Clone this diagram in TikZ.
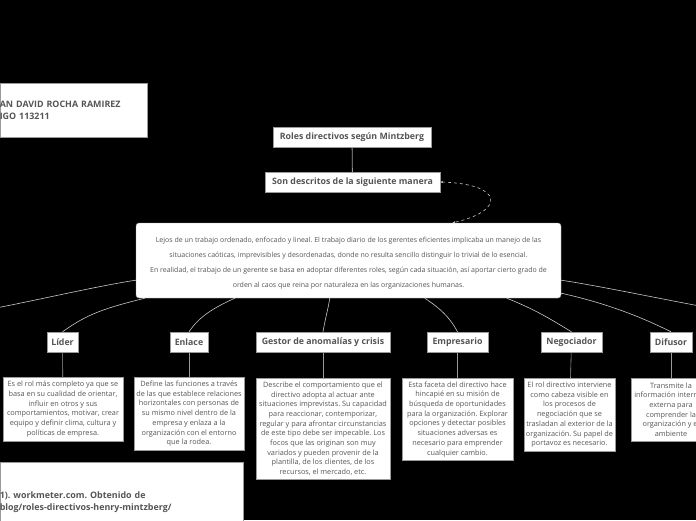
\documentclass[tikz,border=0pt]{standalone}
\usepackage{fontspec}
\setmainfont{Open Sans}
\usetikzlibrary{calc, positioning, arrows.meta}
\definecolor{txtgray}{HTML}{555555}
\definecolor{linegray}{HTML}{C8C8C8}
\definecolor{boxline}{HTML}{9A9A9A}
\frenchspacing

\begin{document}
\begin{tikzpicture}[x=1pt, y=-1pt]

        % Page frame (black background)
        \fill[black] (0,0) rectangle (696,520);
        \useasboundingbox (0,0) rectangle (696,520);
        \clip (0,0) rectangle (696,520);

        % Styles for the boxes and links
        \tikzset{
            topic/.style={draw=boxline, fill=white, text=txtgray, font=\bfseries\fontsize{8.8}{10}\selectfont, inner xsep=4pt, minimum height=20pt},
            note/.style={draw=boxline, fill=white, text=txtgray, font=\fontsize{7.3}{9.7}\selectfont, align=center, inner xsep=2pt, inner ysep=3pt, anchor=north},
            credit/.style={draw=boxline, fill=white, text=txtgray, font=\bfseries\fontsize{8.9}{12.5}\selectfont, align=left, inner sep=0pt},
            link/.style={draw=linegray, line width=0.6pt}
        }

        % 1. Author box (top left) and reference box (bottom left)
        \node[credit, anchor=north east, text width=147pt, minimum height=54pt] (author) at (147,83) {AN DAVID ROCHA RAMIREZ\\IGO 113211};
        \node[credit, anchor=north east, text width=243pt, minimum height=80pt] (source) at (243,462) {1). workmeter.com. Obtenido de\\blog/roles-directivos-henry-mintzberg/};

        % 2. Title and subtitle
        \node[topic, minimum width=158pt] (title) at (352,137) {Roles directivos según Mintzberg};
        \node[topic, minimum width=175pt] (subtitle) at (352.5,182) {Son descritos de la siguiente manera};

        % 3. Main text box (box first, text placed over it)
        \node[draw=boxline, fill=white, rounded corners=3pt, minimum width=425pt, minimum height=75pt] (main) at (348.5,260.5) {};
        \node[text=txtgray, align=center, font=\fontsize{7}{15}\selectfont] (maintext) at ($(main.center)+(0,2.5)$)
              {Lejos de un trabajo ordenado, enfocado y lineal. El trabajo diario de los gerentes eficientes implicaba un manejo de las\\
               situaciones caóticas, imprevisibles y desordenadas, donde no resulta sencillo distinguir lo trivial de lo esencial.\\
               En realidad, el trabajo de un gerente se basa en adoptar diferentes roles, según cada situación, así aportar cierto grado de\\
               orden al caos que reina por naturaleza en las organizaciones humanas.};

        % 4. The roles
        \node[topic, minimum width=31pt] (lider) at (62.5,342) {Líder};
        \node[topic, minimum width=38pt] (enlace) at (189,342) {Enlace};
        \node[topic, minimum width=134pt] (gestor) at (323,342) {Gestor de anomalías y crisis};
        \node[topic, minimum width=61pt] (empresario) at (457.5,342) {Empresario};
        \node[topic, minimum width=61pt] (negociador) at (571.5,342) {Negociador};
        \node[topic, minimum width=42pt] (difusor) at (671,342) {Difusor};

        % 5. Descriptions under each role
        \node[note, minimum width=120pt, minimum height=64pt] (liderdesc) at (63,377)
            {Es el rol más completo ya que se\\basa en su cualidad de orientar,\\influir en otros y sus\\comportamientos, motivar, crear\\equipo y definir clima, cultura y\\políticas de empresa.};
        \node[note, minimum width=110pt, minimum height=73pt] (enlacedesc) at (189,377)
            {Define las funciones a través\\de las que establece relaciones\\horizontales con personas de\\su mismo nivel dentro de la\\empresa y enlaza a la\\organización con el entorno\\que la rodea.};
        \node[note, minimum width=134pt, minimum height=101pt] (gestordesc) at (323,378)
            {Describe el comportamiento que el\\directivo adopta al actuar ante\\situaciones imprevistas. Su capacidad\\para reaccionar, contemporizar,\\regular y para afrontar circunstancias\\de este tipo debe ser impecable. Los\\focos que las originan son muy\\variados y pueden provenir de la\\plantilla, de los clientes, de los\\recursos, el mercado, etc.};
        \node[note, minimum width=111pt, minimum height=82pt] (empresariodesc) at (457.5,378)
            {Esta faceta del directivo hace\\hincapié en su misión de\\búsqueda de oportunidades\\para la organización. Explorar\\opciones y detectar posibles\\situaciones adversas es\\necesario para emprender\\cualquier cambio.};
        \node[note, minimum width=91pt, minimum height=73pt] (negociadordesc) at (569.5,378)
            {El rol directivo interviene\\como cabeza visible en\\los procesos de\\negociación que se\\trasladan al exterior de la\\organización. Su papel de\\portavoz es necesario.};
        \node[note, minimum width=80pt, minimum height=63pt] (difusordesc) at (671,378)
            {Transmite la\\información interna y\\externa para\\comprender la\\organización y el\\ambiente};

        % 6. Links
        \draw[draw=boxline, line width=0.8pt] (title) -- (subtitle);

        % dashed loop from the subtitle down to the main box
        \draw[link, dashed, {Stealth[length=3pt]}-{Stealth[length=3pt]}]
            (subtitle.east) .. controls +(64,2) and +(53,-12) .. ($(main.north)+(104,0)$);

        % off-page branches (left and right)
        \coordinate (offleft) at (-20,311);
        \coordinate (offright) at (716,309);
        \draw[link] ($(main.south west)+(0,-18)$) .. controls +(-40,6) and +(45,-8) .. (offleft);
        \draw[link] ($(main.south east)+(0,-18)$) .. controls +(40,6) and +(-45,-8) .. (offright);

        % main box to the roles
        \draw[link] ($(main.south west)+(9,0)$) .. controls +(-40,10) and +(25,-18) .. (lider.north);
        \draw[link] ($(main.south west)+(99,0)$) .. controls +(-22,10) and +(10,-15) .. (enlace.north);
        \draw[link] ($(main.south west)+(194,0)$) .. controls +(-2,12) and +(2,-12) .. (gestor.north);
        \draw[link] ($(main.south west)+(289,0)$) .. controls +(15,10) and +(-8,-15) .. (empresario.north);
        \draw[link] ($(main.south west)+(371,0)$) .. controls +(30,12) and +(-20,-12) .. (negociador.north);
        \draw[link] ($(main.south east)+(0,-5)$) .. controls +(45,10) and +(-30,-15) .. (difusor.north);

        % roles to their descriptions
        \foreach \r in {lider, enlace, gestor, empresario, negociador, difusor}
            \draw[draw=boxline, line width=0.6pt] (\r) -- (\r desc);

\end{tikzpicture}
\end{document}
